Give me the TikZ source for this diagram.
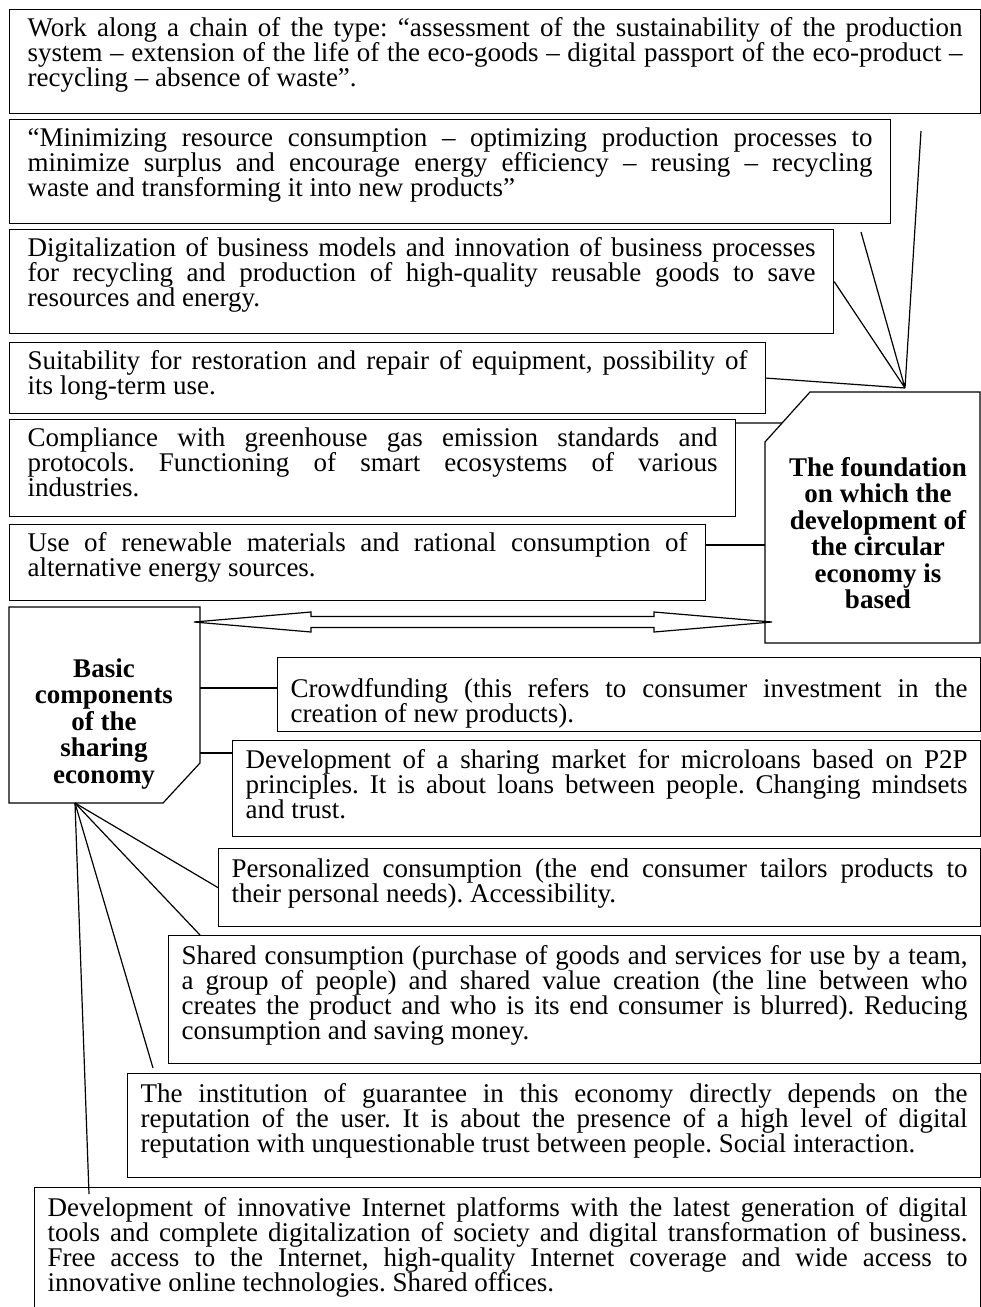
\documentclass[tikz,border=0pt]{standalone}
\usepackage{fontspec}
\setmainfont{Liberation Serif}
\usetikzlibrary{calc}
\tolerance=9999
\hyphenpenalty=10000
\frenchspacing

\begin{document}
\begin{tikzpicture}[x=1pt,y=-1pt,line width=1.2pt,
  every node/.style={font=\fontsize{27}{25}\selectfont},
  box/.style={draw, anchor=north west, align=justify, inner xsep=18pt, inner ysep=0pt, text height=27pt},
  lowbox/.style={box, inner xsep=13pt, text height=29pt},
  heading/.style={align=center, font=\fontsize{27}{26.5}\selectfont\bfseries}]
  \useasboundingbox (0,0) rectangle (981,1307);

  % circular economy side
  \node[box, text width=935pt, text depth=77pt] (eco) at (9,9) {Work along a chain of the type: “assessment of the sustainability of the production\linebreak system – extension of the life of the eco-goods – digital passport of the eco-product –\linebreak recycling – absence of waste”.};
  \node[box, text width=845pt, text depth=77pt] (minim) at (9,119) {“Minimizing resource consumption – optimizing production processes to\linebreak minimize surplus and encourage energy efficiency – reusing – recycling\linebreak waste and transforming it into new products”};
  \node[box, text width=788pt, text depth=77pt] (digit) at (9,229) {Digitalization of business models and innovation of business processes\linebreak for recycling and production of high-quality reusable goods to save\linebreak resources and energy.};
  \node[box, text width=720pt, text depth=44pt] (repair) at (9,342) {Suitability for restoration and repair of equipment, possibility of\linebreak its long-term use.};
  \node[box, text width=690pt, text depth=70pt] (ghg) at (9,419) {Compliance with greenhouse gas emission standards and\linebreak protocols. Functioning of smart ecosystems of various\linebreak industries.};
  \node[box, text width=660pt, text depth=49pt] (renew) at (9,524) {Use of renewable materials and rational consumption of\linebreak alternative energy sources.};

  \coordinate (fa) at (765,442);
  \coordinate (fb) at (810,392);
  \draw (fa) -- (fb) -- (980,392) -- (980,643) -- (765,643) -- cycle;
  \node[heading] (found) at (878,533) {The foundation\\on which the\\development of\\the circular\\economy is\\based};

  \coordinate (F) at (905,388);
  \coordinate (f1) at (921,131);
  \coordinate (f2) at (861,232);
  \draw (F) -- (f1) (F) -- (f2) (F) -- (digit.east) (F) -- (repair.east);
  \draw ([yshift=-4pt]ghg.north east) -- ($(fa)!0.38!(fb)$);
  \draw ([yshift=-21pt]renew.north east) coordinate (r6) -- (r6 -| fa);

  % sharing economy side
  \coordinate (bR) at (200,607);
  \draw (9,607) -- (bR) -- (200,763) -- (163,803) -- (9,803) -- cycle;
  \node[heading] (basic) at (104,724) {Basic\\components\\of the\\sharing\\economy};
  \coordinate (G) at (75,803);

  % double arrow between the two
  \coordinate (arL) at (194,622);
  \coordinate (arR) at (772,622);
  \draw (arL) -- ++(117,-10) -- ++(0,4.5) -- ($(arR)+(-118,-5.5)$) -- ++(0,-4.5) -- (arR)
    -- ++(-118,10) -- ++(0,-4.5) -- ($(arL)+(117,5.5)$) -- ++(0,4.5) -- cycle;

  \node[lowbox, text width=677pt, text height=40pt, text depth=34pt] (crowd) at (277,657) {Crowdfunding (this refers to consumer investment in the\linebreak creation of new products).};
  \node[lowbox, text width=722pt, text height=28pt, text depth=68pt] (loan) at (232,740) {Development of a sharing market for microloans based on P2P\linebreak principles. It is about loans between people. Changing mindsets\linebreak and trust.};
  \node[lowbox, text width=736pt, text depth=49pt] (pers) at (218,848) {Personalized consumption (the end consumer tailors products to\linebreak their personal needs). Accessibility.};
  \node[lowbox, text width=786pt, text depth=99pt] (shared) at (168,935) {Shared consumption (purchase of goods and services for use by a team,\linebreak a group of people) and shared value creation (the line between who\linebreak creates the product and who is its end consumer is blurred). Reducing\linebreak consumption and saving money.};
  \node[lowbox, text width=827pt, text depth=75pt] (inst) at (127,1073) {The institution of guarantee in this economy directly depends on the\linebreak reputation of the user. It is about the presence of a high level of digital\linebreak reputation with unquestionable trust between people. Social interaction.};
  \node[lowbox, text width=920pt, text depth=100pt] (innov) at (34,1187) {Development of innovative Internet platforms with the latest generation of digital\linebreak tools and complete digitalization of society and digital transformation of business.\linebreak Free access to the Internet, high-quality Internet coverage and wide access to\linebreak innovative online technologies. Shared offices.};

  \draw ([yshift=-31pt]crowd.north west) coordinate (c1) -- (c1 -| bR);
  \draw ([yshift=-13pt]loan.north west) coordinate (l1) -- (l1 -| bR);
  \draw (G) -- (pers.west);
  \draw (G) -- ([xshift=32pt]shared.north west);
  \draw (G) -- ([xshift=26pt,yshift=5pt]inst.north west);
  \draw (G) -- ([xshift=55pt,yshift=-7pt]innov.north west);
\end{tikzpicture}
\end{document}
